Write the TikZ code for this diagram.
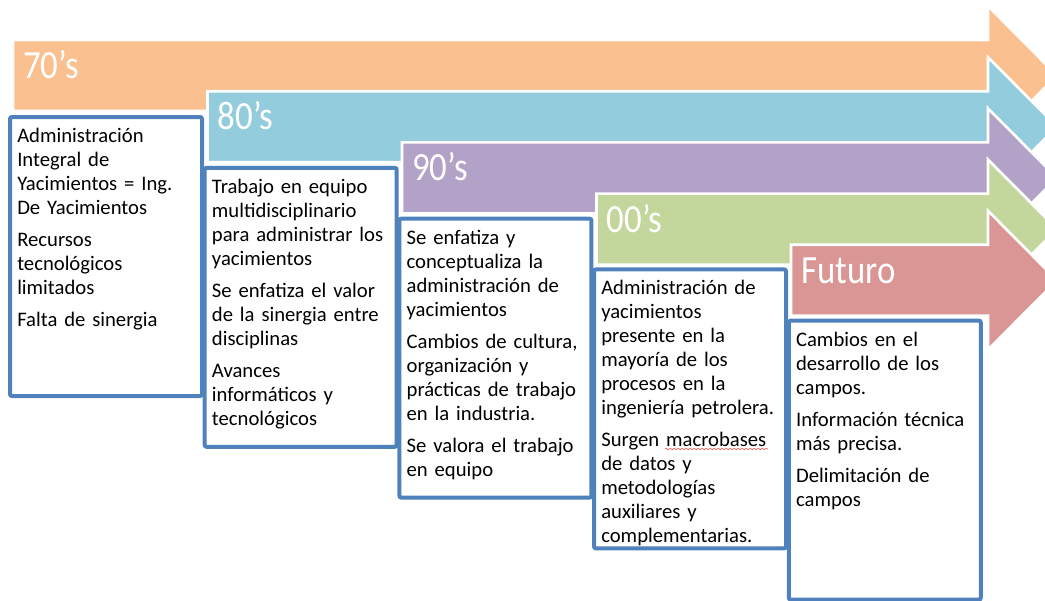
\documentclass[tikz,border=0pt]{standalone}
\usepackage{fontspec}
\setmainfont{Carlito}
\newfontfamily\hdrfont[FakeStretch=0.87]{Carlito}
\usetikzlibrary{decorations.pathmorphing}
\definecolor{cA}{HTML}{FAC090}
\definecolor{cB}{HTML}{93CDDD}
\definecolor{cC}{HTML}{B3A2C7}
\definecolor{cD}{HTML}{C3D69B}
\definecolor{cE}{HTML}{D99694}
\definecolor{boxblue}{HTML}{4F81BD}
\newcommand\tlarrow[3]{\fill[#3,draw=white,line width=2pt,line join=miter] (#1,#2) -- (988,#2) -- (988,#2-34) -- (1057,#2+35.5) -- (988,#2+105) -- (988,#2+71) -- (#1,#2+71) -- cycle;}
\newcommand\tlbox[2]{\draw[boxline] (#1+2,#2+2) rectangle (#1+194,#2+281);}
\begin{document}
\begin{tikzpicture}[x=0.75pt,y=-0.75pt,
  boxline/.style={draw=boxblue,fill=white,line width=3pt,rounded corners=1.5pt},
  hdr/.style={anchor=base west,inner sep=0pt,text=white,font=\hdrfont\fontsize{30pt}{30pt}\selectfont},
  body/.style={anchor=base west,inner sep=0pt,text width=142pt,align=left,font=\fontsize{15.5pt}{18pt}\selectfont}]
\useasboundingbox (0,0) rectangle (1045,600);
\clip (0,0) rectangle (1045,600);
% 70's
\tlarrow{13}{40}{cA}
\node[hdr] (h70) at (23,78.5) {70’s};
\tlbox{8}{115}
\node[body] (t70) at (17,142.5) {Administración\\Integral de\\Yacimientos = Ing.\\De Yacimientos\\[6pt]Recursos\\tecnológicos\\limitados\\[6pt]Falta de sinergia};
% 80's
\tlarrow{207.5}{91.2}{cB}
\node[hdr] (h80) at (217.5,129.7) {80’s};
\tlbox{202.7}{165.8}
\node[body] (t80) at (211.7,193.3) {Trabajo en equipo\\multidisciplinario\\para administrar los\\yacimientos\\[6pt]Se enfatiza el valor\\de la sinergia entre\\disciplinas\\[6pt]Avances\\informáticos y\\tecnológicos};
% 90's
\tlarrow{402}{142.4}{cC}
\node[hdr] (h90) at (412,180.9) {90’s};
\tlbox{397.4}{216.6}
\node[body] (t90) at (406.4,244.1) {Se enfatiza y\\conceptualiza la\\administración de\\yacimientos\\[6pt]Cambios de cultura,\\organización y\\prácticas de trabajo\\en la industria.\\[6pt]Se valora el trabajo\\en equipo};
% 00's
\tlarrow{596.5}{193.6}{cD}
\node[hdr] (h00) at (606.5,232.1) {00’s};
\tlbox{592}{267.4}
\node[body] (t00) at (601,294.9) {Administración de\\yacimientos\\presente en la\\mayoría de los\\procesos en la\\ingeniería petrolera.\\[6pt]Surgen macrobases\\de datos y\\metodologías\\auxiliares y\\complementarias.};
\draw[red!75,line width=0.4pt,decorate,decoration={snake,amplitude=0.45pt,segment length=3pt}] (665,449) -- (768,449);
% Futuro
\tlarrow{791}{244.8}{cE}
\node[hdr] (hfu) at (801,283.3) {Futuro};
\tlbox{786.8}{318.6}
\node[body] (tfu) at (795.8,346.1) {Cambios en el\\desarrollo de los\\campos.\\[6pt]Información técnica\\más precisa.\\[6pt]Delimitación de\\campos};
\end{tikzpicture}
\end{document}
